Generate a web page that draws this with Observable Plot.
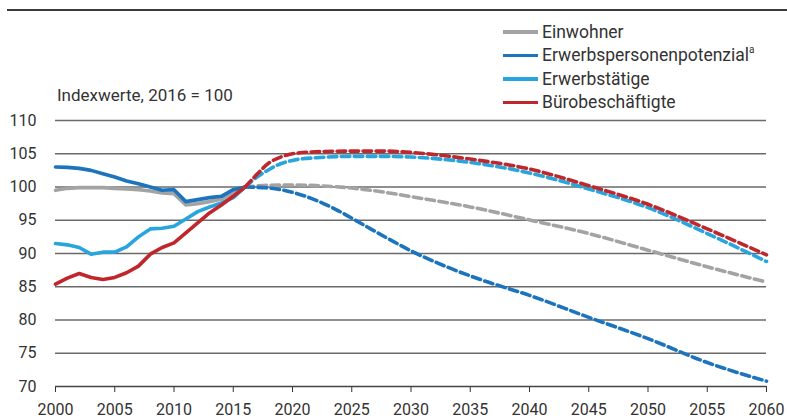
<!DOCTYPE html>
<html>
<head>
<meta charset="utf-8">
<script src="https://cdn.jsdelivr.net/npm/d3@7"></script>
<script src="https://cdn.jsdelivr.net/npm/@observablehq/plot@0.6"></script>
<style>
  html, body { margin: 0; padding: 0; background: #fff; }
  #wrap { position: relative; width: 787px; height: 419px; font-family: Roboto, "Liberation Sans", sans-serif; color: #333; }
  #topRule { position: absolute; left: 7px; top: 9px; width: 780px; height: 2px; background: #3a3a3a; }
  #unit { position: absolute; left: 57px; top: 85px; font-size: 17px; color: #333; white-space: nowrap; }
  #legend { position: absolute; left: 503px; top: 20px; font-size: 17.5px; color: #333; }
  .item { display: flex; align-items: center; height: 23.5px; white-space: nowrap; }
  .sw { width: 35px; height: 3.5px; margin-right: 4px; }
  sup { font-size: 10px; position: relative; top: -1px; }
  #chart { position: absolute; left: 0; top: 0; }
</style>
</head>
<body>
<div id="wrap">
  <div id="chart"></div>
  <div id="topRule"></div>
  <div id="unit"></div>
  <div id="legend"></div>
</div>
<script>
// ---- data ----
const seriesNames = ["Einwohner", "Erwerbspersonenpotenzial", "Erwerbstätige", "Bürobeschäftigte"];
const seriesColors = ["#a3a3a3", "#1b74bd", "#28a4de", "#c0272d"];
const unitLabel = "Indexwerte, 2016 = 100";

const yearsHist = [2000, 2001, 2002, 2003, 2004, 2005, 2006, 2007, 2008, 2009, 2010, 2011, 2012, 2013, 2014, 2015, 2016];
const einwohnerHist = [99.5, 99.8, 99.9, 99.9, 99.9, 99.8, 99.7, 99.6, 99.4, 99.1, 99.0, 97.3, 97.5, 97.8, 98.2, 99.0, 100];
const eppHist = [103.0, 102.95, 102.8, 102.5, 102.0, 101.5, 100.9, 100.5, 100.0, 99.5, 99.6, 97.8, 98.1, 98.4, 98.6, 99.6, 100];
const erwerbstaetigeHist = [91.5, 91.3, 90.9, 89.9, 90.2, 90.2, 91.0, 92.5, 93.7, 93.8, 94.1, 95.2, 96.3, 97.0, 97.6, 98.4, 100];
const bueroHist = [85.4, 86.3, 87.0, 86.4, 86.1, 86.4, 87.1, 88.1, 89.9, 90.9, 91.6, 93.1, 94.6, 96.1, 97.3, 98.6, 100];

const yearsProjA = [2016, 2018, 2020, 2022, 2025, 2028, 2030, 2035, 2040, 2045, 2050, 2055, 2060];
const einwohnerProj = [100, 100.25, 100.3, 100.2, 99.85, 99.15, 98.55, 97.0, 95.05, 93.0, 90.5, 88.0, 85.7];

const yearsEpp = [2016, 2018, 2020, 2022, 2024, 2026, 2028, 2030, 2033, 2036, 2040, 2045, 2050, 2055, 2060];
const eppProj = [100, 99.85, 99.2, 98.0, 96.3, 94.3, 92.3, 90.4, 88.0, 86.0, 83.7, 80.4, 77.2, 73.6, 70.8];

const yearsProjB = [2016, 2017, 2018, 2019, 2020, 2022, 2025, 2028, 2030, 2035, 2040, 2045, 2050, 2055, 2060];
const erwerbstaetigeProj = [100, 101.5, 102.6, 103.5, 104.0, 104.4, 104.6, 104.6, 104.5, 103.7, 102.1, 99.7, 96.9, 93.0, 88.8];
const bueroProj = [100, 101.9, 103.6, 104.5, 105.0, 105.3, 105.4, 105.4, 105.2, 104.2, 102.7, 100.2, 97.4, 93.7, 89.8];

const xTicks = [2000, 2005, 2010, 2015, 2020, 2025, 2030, 2035, 2040, 2045, 2050, 2055, 2060];
const yTicks = [70, 75, 80, 85, 90, 95, 100, 105, 110];

// ---- tables ----
const toRows = (years, values) => years.map((year, i) => ({year, value: values[i]}));
const hist = [einwohnerHist, eppHist, erwerbstaetigeHist, bueroHist].map(v => toRows(yearsHist, v));
const proj = [
  toRows(yearsProjA, einwohnerProj),
  toRows(yearsEpp, eppProj),
  toRows(yearsProjB, erwerbstaetigeProj),
  toRows(yearsProjB, bueroProj)
];

const lineMarks = [];
for (let i = 0; i < 4; i++) {
  lineMarks.push(Plot.line(hist[i], {x: "year", y: "value", stroke: seriesColors[i], strokeWidth: 3.6, strokeLinejoin: "round"}));
}
for (let i = 0; i < 4; i++) {
  lineMarks.push(Plot.line(proj[i], {x: "year", y: "value", stroke: seriesColors[i], strokeWidth: 3.6, strokeDasharray: "8.5 4.5", curve: "monotone-x"}));
}

const chart = Plot.plot({
  width: 787,
  height: 419,
  marginLeft: 55,
  marginRight: 21,
  marginTop: 120,
  marginBottom: 33,
  style: {fontFamily: 'Roboto, "Liberation Sans", sans-serif', fontSize: "16px", color: "#333", background: "transparent", overflow: "visible"},
  x: {domain: [2000, 2060], ticks: xTicks, tickFormat: d => String(d), tickSize: 6, tickPadding: 11, label: null},
  y: {domain: [70, 110], ticks: yTicks, tickFormat: d => String(d), tickSize: 0, tickPadding: 19, label: null},
  marks: [
    Plot.ruleY(yTicks.filter(d => d > 70), {stroke: "#6a6a6a", strokeWidth: 1.3}),
    Plot.ruleY([70], {stroke: "#444", strokeWidth: 1.5}),
    ...lineMarks
  ]
});
document.getElementById("chart").appendChild(chart);

document.getElementById("unit").textContent = unitLabel;
const legend = document.getElementById("legend");
seriesNames.forEach((name, i) => {
  const item = document.createElement("div");
  item.className = "item";
  const sw = document.createElement("span");
  sw.className = "sw";
  sw.style.background = seriesColors[i];
  const label = document.createElement("span");
  label.textContent = name;
  item.appendChild(sw);
  item.appendChild(label);
  if (i === 1) {
    const sup = document.createElement("sup");
    sup.textContent = "a";
    label.appendChild(sup);
  }
  legend.appendChild(item);
});
</script>
</body>
</html>
